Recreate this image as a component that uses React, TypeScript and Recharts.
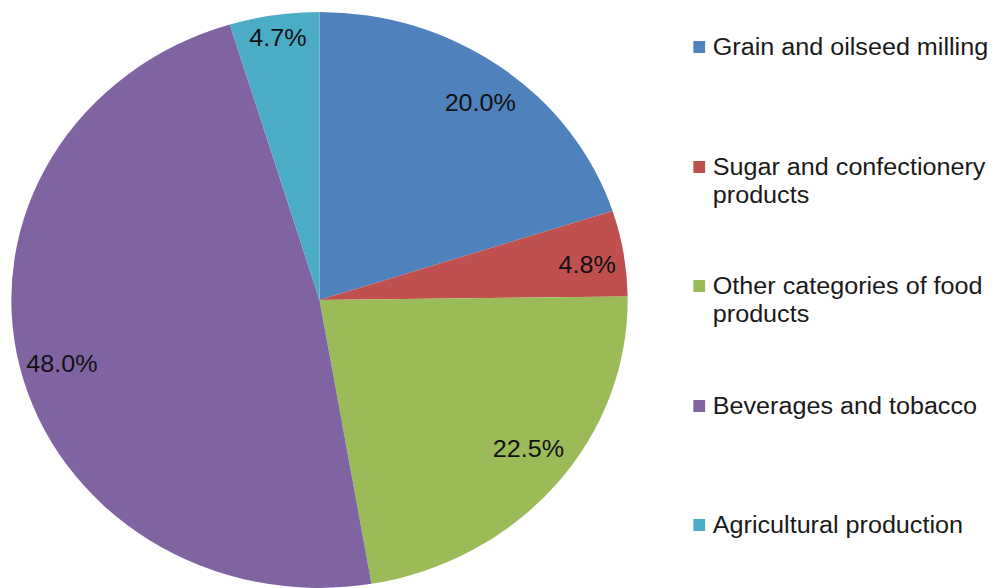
import React from "react";
import { PieChart, Pie, Cell, Legend } from "recharts";

const categories = [
  "Grain and oilseed milling",
  "Sugar and confectionery products",
  "Other categories of food products",
  "Beverages and tobacco",
  "Agricultural production",
];
const shares = [20.0, 4.8, 22.5, 48.0, 4.7];

// Excel 2007 palette
const COLORS = ["#4F81BD", "#C0504D", "#9BBB59", "#8064A2", "#4BACC6"];

// the source picture is stretched sideways, so the chart is drawn narrower and scaled back out
const STRETCH = 1.07;
const WIDTH = 994;
const HEIGHT = 588;
const INNER_W = WIDTH / STRETCH;

const FONT = "'Liberation Sans', Arial, sans-serif";
const FONT_SIZE = 23.5;

// label placement per slice: share of the radius, and a small turn (degrees, clockwise)
// so the labels land where Excel's best-fit put them
const LABEL_RADIUS = [0.861, 0.877, 0.852, 0.865, 0.919];
const LABEL_TURN = [1.3, 1.4, -2.5, -1.6, 0];

const RAD = Math.PI / 180;

const data = categories.map((name, i) => ({ name, value: shares[i] }));

function renderLabel(props: any) {
  const { cx, cy, midAngle, outerRadius, index, value } = props;
  const r = outerRadius * LABEL_RADIUS[index];
  const a = midAngle - LABEL_TURN[index];
  const x = cx + r * Math.cos(-a * RAD);
  const y = cy + r * Math.sin(-a * RAD);
  return (
    <text
      x={x}
      y={y}
      fill="#111"
      textAnchor="middle"
      dominantBaseline="central"
      fontFamily={FONT}
      fontSize={FONT_SIZE}
    >
      {`${Number(value).toFixed(1)}%`}
    </text>
  );
}

function LegendBox() {
  return (
    <div style={{ position: "relative", width: 290, height: 588 }}>
      {data.map((d, i) => (
        <div
          key={d.name}
          style={{
            position: "absolute",
            left: 0,
            top: 33 + i * 119.5,
            display: "flex",
            alignItems: "flex-start",
          }}
        >
          <div
            style={{
              width: 11.5,
              height: 12,
              marginTop: 8,
              marginRight: 7,
              backgroundColor: COLORS[i],
              flexShrink: 0,
            }}
          />
          <div
            style={{
              width: 266,
              fontFamily: FONT,
              fontSize: FONT_SIZE,
              lineHeight: "28px",
              color: "#1a1a1a",
            }}
          >
            {d.name}
          </div>
        </div>
      ))}
    </div>
  );
}

export default function App() {
  return (
    <div
      style={{
        position: "absolute",
        left: 0,
        top: 0,
        width: WIDTH,
        height: HEIGHT,
        background: "#fff",
        overflow: "hidden",
      }}
    >
      <div
        style={{
          width: INNER_W,
          height: HEIGHT,
          transform: `scaleX(${STRETCH})`,
          transformOrigin: "0 0",
        }}
      >
        <PieChart width={INNER_W} height={HEIGHT} margin={{ top: 0, right: 0, bottom: 0, left: 0 }}>
          <Pie
            data={data}
            dataKey="value"
            nameKey="name"
            cx={319.5 / STRETCH}
            cy={300}
            outerRadius={288}
            startAngle={90}
            endAngle={-270}
            stroke="none"
            label={renderLabel}
            labelLine={false}
            isAnimationActive={false}
          >
            {data.map((entry, i) => (
              <Cell key={entry.name} fill={COLORS[i]} />
            ))}
          </Pie>
          <Legend
            content={() => <LegendBox />}
            wrapperStyle={{ position: "absolute", left: 693 / STRETCH, top: 0, width: 290, height: 588 }}
          />
        </PieChart>
      </div>
    </div>
  );
}
